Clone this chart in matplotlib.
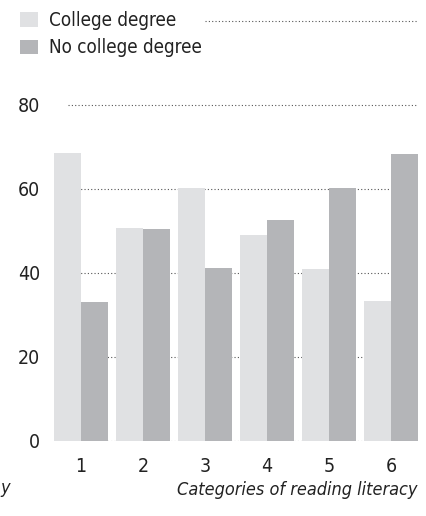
import matplotlib
matplotlib.use("Agg")
import matplotlib.pyplot as plt
import numpy as np

# data
categories = ["1", "2", "3", "4", "5", "6"]
college = [68.6, 50.7, 60.2, 49.0, 40.9, 33.3]
no_college = [33.0, 50.4, 41.2, 52.6, 60.3, 68.3]
yticks = [0, 20, 40, 60, 80]

plt.rcParams['font.family'] = ['DejaVu Sans']
plt.rcParams['font.stretch'] = 'condensed'

W, H = 427, 516
fig = plt.figure(figsize=(W / 100, H / 100), dpi=100)
# axes box in pixels: x 54..418, y(0)=440.5, ylim top 102
ax = fig.add_axes([54 / W, 1 - 440.5 / H, 364 / W, (440.5 - 12.7) / H])

x = np.arange(len(categories))
bw = 0.4355
c_light = "#e0e1e3"
c_dark = "#b4b5b8"
grid_c = "#555555"

# dotted guide lines (top one partly hidden by the legend, 80 starts a bit in)
for y in yticks + [100]:
    xmin = 0.0
    if y == 100:
        xmin = 0.415
    elif y == 80:
        xmin = 0.038
    ax.axhline(y, xmin=xmin, xmax=1, color=grid_c, lw=0.8, ls=(0, (1, 2)), zorder=0)

ax.bar(x - bw / 2, college, width=bw, color=c_light, label="College degree", zorder=2)
ax.bar(x + bw / 2, no_college, width=bw, color=c_dark, label="No college degree", zorder=2)

ax.set_xlim(-bw, len(categories) - 1 + bw)
ax.set_ylim(0, 102)
ax.set_xticks(x)
ax.set_xticklabels(categories)
ax.set_yticks(yticks)
ax.tick_params(axis="both", length=0, labelsize=14, colors="#222222")
ax.tick_params(axis="y", pad=10)
ax.tick_params(axis="x", pad=12)
for s in ax.spines.values():
    s.set_visible(False)

leg = ax.legend(loc="upper left", bbox_to_anchor=(20 / W, 1 - 11 / H), bbox_transform=fig.transFigure,
                frameon=False, fontsize=13.5, handlelength=0.95, handleheight=0.83,
                handletextpad=0.6, labelspacing=0.45, borderpad=0, borderaxespad=0)
for t in leg.get_texts():
    t.set_color("#222222")

fig.text(418 / W, 1 - 490 / H, "Categories of reading literacy", ha="right", va="center",
         fontsize=13, style="italic", color="#222222")
fig.text(0.0, 1 - 488 / H, "y", ha="left", va="center", fontsize=13, style="italic", color="#222222")

fig.savefig("out.png", dpi=100, facecolor="white")
